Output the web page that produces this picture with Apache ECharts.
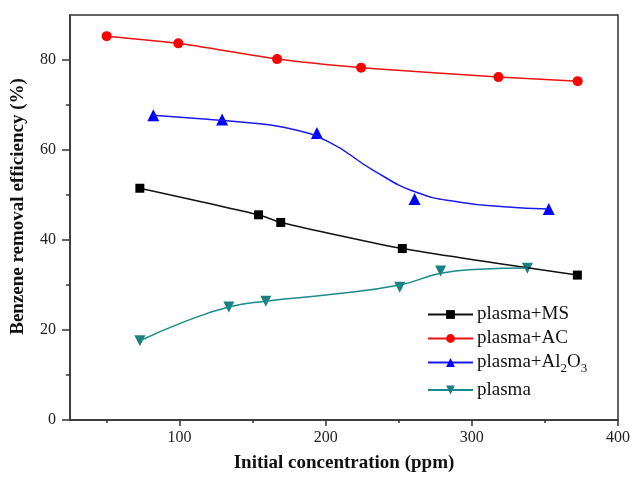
<!DOCTYPE html>
<html>
<head>
<meta charset="utf-8">
<script src="https://cdn.jsdelivr.net/npm/echarts@6/dist/echarts.min.js"></script>
<style>
  html, body { margin: 0; padding: 0; background: #fff; }
  #chart { width: 633px; height: 478px; }
</style>
</head>
<body>
<div id="chart"></div>
<script>
// Benzene removal efficiency vs. initial concentration
const seriesNames = ['plasma+MS', 'plasma+AC', 'plasma+Al2O3', 'plasma'];

// [initial concentration (ppm), removal efficiency (%)]
const msPoints = [[72.8, 51.5], [154, 45.6], [169.2, 43.9], [252.4, 38.1], [372.2, 32.2]];
const acPoints = [[50.1, 85.3], [99.1, 83.7], [166.7, 80.2], [224.2, 78.3], [318.2, 76.2], [372.4, 75.3]];
const al2o3Points = [[82, 67.7], [129.1, 66.8], [194, 63.8], [260.8, 49.1], [352.6, 46.9]];
// fitted trend for the Al2O3 data
const al2o3Fit = [[82, 67.7], [112, 67.0], [142, 66.2], [172, 65.0], [202, 61.8], [232, 55.6],
                  [262, 50.6], [292, 48.4], [322, 47.4], [352.6, 46.9]];
const plasmaPoints = [[72.8, 17.6], [133.7, 25.1], [159, 26.4], [250.6, 29.5], [278.6, 33.1], [338, 33.7]];
// fitted trend for the plasma-only data
const plasmaFit = [[72.8, 17.6], [103, 21.8], [133.7, 25.1], [159, 26.4], [203, 27.9], [250.6, 30.0],
                   [278.6, 32.6], [305, 33.5], [338, 33.8]];

const xMajorTicks = [100, 200, 300, 400];
const xMinorTicks = [50, 150, 250, 350];
const yMajorTicks = [0, 20, 40, 60, 80];
const yMinorTicks = [10, 30, 50, 70];

const FONT = '"Liberation Serif", "Times New Roman", serif';
const AXIS_COLOR = '#333';

const chart = echarts.init(document.getElementById('chart'), null, { renderer: 'canvas' });

const baseX = { type: 'value', min: 25, max: 400, splitLine: { show: false } };
const baseY = { type: 'value', min: 0, max: 90, splitLine: { show: false } };

// curve-only points: symbols hidden on the line, kept for the legend icon
const hiddenSymbols = pts => pts.map(p => ({ value: p, itemStyle: { opacity: 0 } }));

chart.setOption({
  animation: false,
  backgroundColor: '#fff',
  grid: {
    left: 70, right: 14, top: 15, bottom: 55,
    show: true, borderColor: AXIS_COLOR, borderWidth: 1.5, backgroundColor: 'transparent'
  },
  legend: {
    data: seriesNames,
    orient: 'vertical',
    left: 427, top: 305, padding: 0,
    itemWidth: 45, itemHeight: 11, itemGap: 5,
    textStyle: {
      fontFamily: FONT, fontSize: 19, color: '#111', padding: [0, 0, 0, -1],
      rich: { sub: { fontFamily: FONT, fontSize: 13, color: '#111', padding: [13, 0, 0, 0] } }
    },
    formatter: name => name === 'plasma+Al2O3' ? 'plasma+Al{sub|2}O{sub|3}' : name
  },
  xAxis: [
    Object.assign({}, baseX, {
      position: 'bottom',
      name: 'Initial concentration (ppm)',
      nameLocation: 'middle', nameGap: 34,
      nameTextStyle: { fontFamily: FONT, fontSize: 19, fontWeight: 'bold', color: '#111' },
      axisLine: { lineStyle: { color: AXIS_COLOR, width: 1.5 } },
      axisTick: { customValues: xMajorTicks, length: 6, lineStyle: { color: AXIS_COLOR, width: 1.5 } },
      axisLabel: { customValues: xMajorTicks, margin: 10, fontFamily: FONT, fontSize: 16, color: '#222' }
    }),
    Object.assign({}, baseX, {
      position: 'bottom',
      axisLine: { show: false },
      axisTick: { customValues: xMinorTicks, length: 3, lineStyle: { color: AXIS_COLOR, width: 1.5 } },
      axisLabel: { show: false }
    })
  ],
  yAxis: [
    Object.assign({}, baseY, {
      position: 'left',
      name: 'Benzene removal efficiency (%)',
      nameLocation: 'middle', nameGap: 42,
      nameTextStyle: { fontFamily: FONT, fontSize: 19, fontWeight: 'bold', color: '#111', padding: [0, 0, 0, 22] },
      axisLine: { lineStyle: { color: AXIS_COLOR, width: 1.5 } },
      axisTick: { customValues: yMajorTicks, length: 8, lineStyle: { color: AXIS_COLOR, width: 1.5 } },
      axisLabel: { customValues: yMajorTicks, margin: 14, fontFamily: FONT, fontSize: 16, color: '#222' }
    }),
    Object.assign({}, baseY, {
      position: 'left',
      axisLine: { show: false },
      axisTick: { customValues: yMinorTicks, length: 4, lineStyle: { color: AXIS_COLOR, width: 1.5 } },
      axisLabel: { show: false }
    })
  ],
  series: [
    {
      name: 'plasma+MS', type: 'line', data: msPoints, smooth: 0.2,
      symbol: 'rect', symbolSize: 9,
      itemStyle: { color: '#000' }, lineStyle: { color: '#111', width: 1.5 }
    },
    {
      name: 'plasma+AC', type: 'line', data: acPoints, smooth: 0.2,
      symbol: 'circle', symbolSize: 10,
      itemStyle: { color: '#ff0000' }, lineStyle: { color: '#ee1111', width: 1.5 }
    },
    {
      name: 'plasma+Al2O3', type: 'line', smooth: 0.5, data: hiddenSymbols(al2o3Fit),
      symbol: 'triangle', symbolSize: 11,
      itemStyle: { color: '#0000ff' }, lineStyle: { color: '#1a1aee', width: 1.5 }
    },
    {
      name: 'plasma+Al2O3 data', type: 'scatter', data: al2o3Points,
      symbol: 'triangle', symbolSize: 12,
      itemStyle: { color: '#0000ff', opacity: 1 }
    },
    {
      name: 'plasma', type: 'line', smooth: 0.5, data: hiddenSymbols(plasmaFit),
      symbol: 'triangle', symbolRotate: 180, symbolSize: 11,
      itemStyle: { color: '#1a8080' }, lineStyle: { color: '#1a8a8a', width: 1.5 }
    },
    {
      name: 'plasma data', type: 'scatter', data: plasmaPoints,
      symbol: 'triangle', symbolRotate: 180, symbolSize: 11,
      itemStyle: { color: '#1a8080', opacity: 1 }
    }
  ]
});
</script>
</body>
</html>
